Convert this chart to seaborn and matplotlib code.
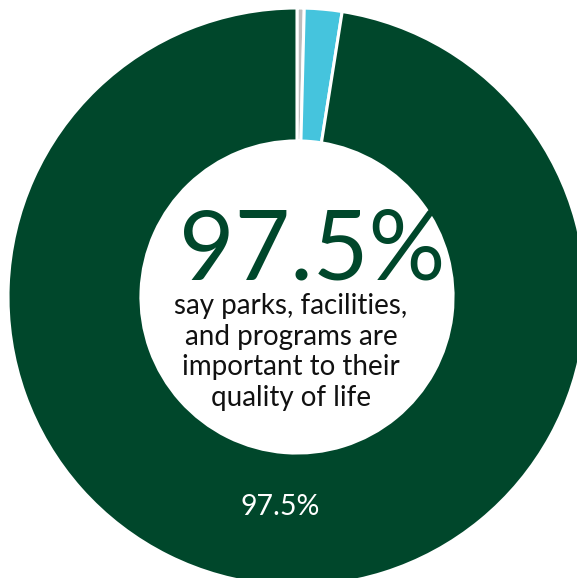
import matplotlib
matplotlib.use("Agg")
import matplotlib.pyplot as plt
import seaborn as sns
import numpy as np

# Survey shares: quality-of-life importance
categories = ["Not sure", "Not important", "Important"]
shares = [0.4, 2.1, 97.5]
colors = ["#BDBDBD", "#45C4DD", "#00472B"]
headline = "say parks, facilities,\nand programs are\nimportant to their\nquality of life"

sns.set_theme(style="white")
plt.rcParams["font.family"] = ["Lato", "DejaVu Sans"]

W, H, DPI = 577, 578, 100
fig = plt.figure(figsize=(W / DPI, H / DPI), dpi=DPI)
ax = fig.add_axes([0, 0, 1, 1])
ax.set_axis_off()

R_PX = 289.0
CX, CY = 297.0, 297.0

wedges, _ = ax.pie(
    shares, colors=colors, startangle=90, counterclock=False,
    radius=1.0, wedgeprops=dict(width=0.46, edgecolor="white", linewidth=2.2),
)
ax.set_xlim(-CX / R_PX, (W - CX) / R_PX)
ax.set_ylim(-(H - CY) / R_PX, CY / R_PX)
ax.set_aspect("equal")

# Value label inside the main ring segment
main = wedges[2]
mid = np.deg2rad((main.theta1 + main.theta2) / 2)
ax.text(0.73 * np.cos(mid), 0.73 * np.sin(mid), f"{shares[2]}%",
        color="white", fontsize=20.5, ha="center", va="center")

# Centre callout
def px(x, y):
    return ((x - CX) / R_PX, (CY - y) / R_PX)

ax.text(*px(312, 280), f"{shares[2]}%", color="#00472B", fontsize=69,
        fontweight="normal", ha="center", va="baseline")
ax.text(*px(291, 352), headline, color="#111111", fontsize=20,
        ha="center", va="center", linespacing=1.22)

fig.savefig("out.png", dpi=DPI)
